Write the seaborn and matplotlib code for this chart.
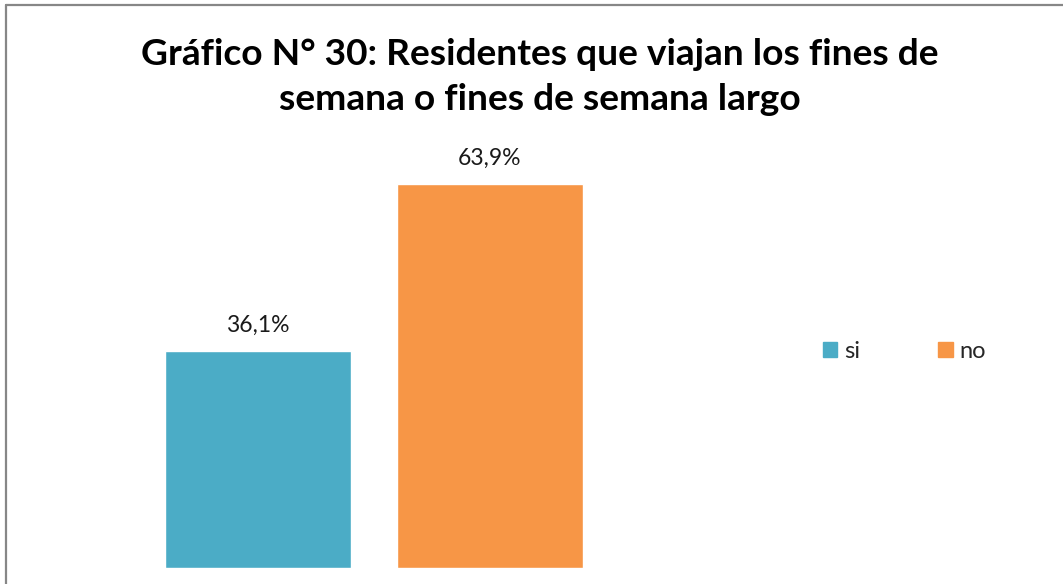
import matplotlib
matplotlib.use("Agg")
import matplotlib.pyplot as plt
import seaborn as sns
import pandas as pd
from matplotlib.lines import Line2D

categorias = ["si", "no"]
valores = [36.1, 63.9]
etiquetas = ["36,1%", "63,9%"]
colores = ["#4BACC6", "#F79646"]
titulo = "Gráfico N° 30: Residentes que viajan los fines de\nsemana o fines de semana largo"

sns.set_theme(style="white")
plt.rcParams["font.family"] = ["Lato", "DejaVu Sans"]

df = pd.DataFrame({"categoria": categorias, "valor": valores})

fig = plt.figure(figsize=(10.63, 5.84), dpi=100)
ax = fig.add_axes([142.1 / 1063, 16 / 584, 463.5 / 1063, 420.7 / 584])

sns.barplot(data=df, x="categoria", y="valor", hue="categoria",
            palette=colores, width=0.803, dodge=False, legend=True,
            saturation=1, ax=ax)

ax.set_xlim(-0.5, 1.5)
ax.set_ylim(0, 70)
for s in ax.spines.values():
    s.set_visible(False)
ax.set_xticks([])
ax.set_yticks([])
ax.set_xlabel("")
ax.set_ylabel("")

for cont, lab in zip(ax.containers, etiquetas):
    ax.bar_label(cont, labels=[lab], padding=11, fontsize=16.5, color="#1a1a1a")

handles = [plt.Rectangle((0, 0), 1, 1, color=c) for c in colores]
fig.legend(handles, categorias, loc="center left",
           bbox_to_anchor=(802 / 1063, 1 - 351 / 584), ncol=2, frameon=False,
           fontsize=17, handlelength=0.6, handleheight=0.6, handletextpad=0.3,
           columnspacing=3.3)
if ax.get_legend() is not None:
    ax.get_legend().remove()

fig.text(540 / 1063, 1 - 77 / 584, titulo, ha="center", va="center",
         fontsize=26.7, fontweight="bold", color="#000000", linespacing=1.45)

# chart border
bx = 5.5 / 1063
by = 1 - 4.5 / 584
fig.add_artist(Line2D([bx, 1.0], [by, by], transform=fig.transFigure, color="#878787", lw=1.6))
fig.add_artist(Line2D([bx, bx], [0, by], transform=fig.transFigure, color="#878787", lw=1.6))

fig.savefig("out.png", dpi=100)
